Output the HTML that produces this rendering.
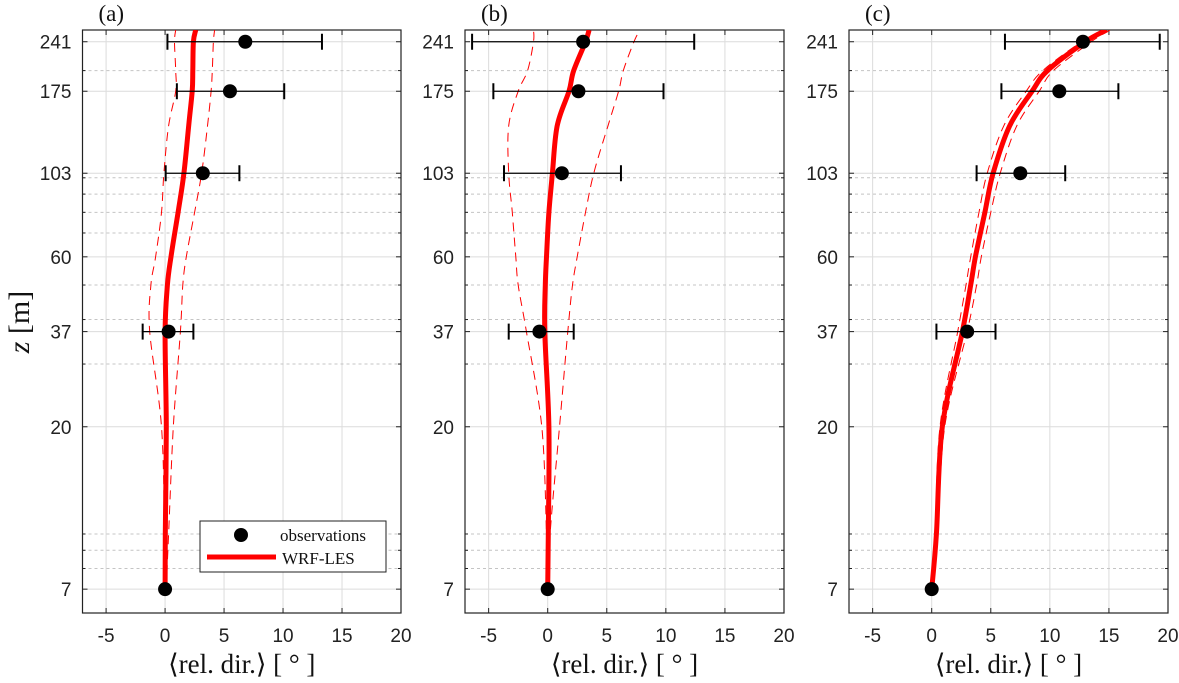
<!DOCTYPE html>
<html><head><meta charset="utf-8"><style>
html,body{margin:0;padding:0;background:#fff;}
svg{display:block;}
.tick{font-family:"Liberation Sans",sans-serif;font-size:19px;fill:#222;}
.ser{font-family:"Liberation Serif",serif;fill:#111;}
</style></head><body>
<svg id="chart" width="1179" height="683" viewBox="0 0 1179 683" xmlns="http://www.w3.org/2000/svg"></svg>
<script>
const heights=[7,10,20,37,50,60,80,103,140,175,200,241,260];
const obsZ=[7,37,103,175,241];
// panel a
const aMean=[0,0.02,0.1,0.0,0.2,0.5,1.1,1.6,2.0,2.3,2.35,2.4,2.6];
const aLow=[0,-0.05,-0.3,-1.3,-1.2,-0.8,-0.3,-0.1,0.3,0.9,0.9,0.8,0.9];
const aHigh=[0.1,0.3,0.7,1.3,1.5,1.8,2.5,3.1,3.6,3.9,4.0,4.1,4.2];
const aObs=[0,0.3,3.2,5.5,6.8];
const aErrLo=[null,-1.9,0.05,1.0,0.2];
const aErrHi=[null,2.4,6.3,10.1,13.3];
// panel b
const bMean=[0,0.05,0.1,-0.25,-0.2,-0.1,0.1,0.4,0.8,1.8,2.2,3.2,3.5];
const bLow=[0,-0.1,-0.5,-1.8,-2.5,-2.7,-3.0,-3.3,-3.3,-2.5,-1.7,-1.2,-1.2];
const bHigh=[0.05,0.2,1.0,1.7,2.1,2.5,3.2,3.9,5.1,6.0,6.4,7.3,7.8];
const bObs=[0,-0.7,1.2,2.6,3.0];
const bErrLo=[null,-3.3,-3.7,-4.6,-6.4];
const bErrHi=[null,2.2,6.2,9.8,12.4];
// panel c
const cMean=[0,0.4,0.9,2.6,3.3,3.7,4.5,5.2,6.6,8.5,9.8,13.0,14.8];
const cLow=[0,0.3,0.7,2.2,2.9,3.3,4.0,4.7,6.1,8.0,9.4,12.7,14.7];
const cHigh=[0,0.5,1.1,3.0,3.8,4.2,5.0,5.8,7.2,9.1,10.3,13.5,15.1];
const cObs=[0,3.0,7.5,10.8,12.8];
const cErrLo=[null,0.4,3.8,5.9,6.2];
const cErrHi=[null,5.4,11.3,15.8,19.3];
const xTicks=[-5,0,5,10,15,20];
const yTicks=[7,20,37,60,103,175,241];
const yMinor=[8,9,10,30,40,50,70,80,90,100,200];

const NS="http://www.w3.org/2000/svg";
const svg=document.getElementById('chart');
function mk(tag,attrs,parent){const e=document.createElementNS(NS,tag);for(const k in attrs)e.setAttribute(k,attrs[k]);(parent||svg).appendChild(e);return e;}
const plotTop=30,plotBot=613,zMin=6,zMax=260;
function Y(z){return plotBot-(Math.log10(z)-Math.log10(zMin))/(Math.log10(zMax)-Math.log10(zMin))*(plotBot-plotTop);}
function smooth(pts){
 let d='M'+pts[0][0].toFixed(1)+','+pts[0][1].toFixed(1);
 for(let i=0;i<pts.length-1;i++){
  const p0=pts[Math.max(i-1,0)],p1=pts[i],p2=pts[i+1],p3=pts[Math.min(i+2,pts.length-1)];
  const c1=[p1[0]+(p2[0]-p0[0])/6,p1[1]+(p2[1]-p0[1])/6];
  const c2=[p2[0]-(p3[0]-p1[0])/6,p2[1]-(p3[1]-p1[1])/6];
  d+=' C'+c1[0].toFixed(1)+','+c1[1].toFixed(1)+' '+c2[0].toFixed(1)+','+c2[1].toFixed(1)+' '+p2[0].toFixed(1)+','+p2[1].toFixed(1);
 }
 return d;
}
const panels=[
 {key:'a',left:82.5,right:401,mean:aMean,low:aLow,high:aHigh,obs:aObs,lo:aErrLo,hi:aErrHi},
 {key:'b',left:465,right:784,mean:bMean,low:bLow,high:bHigh,obs:bObs,lo:bErrLo,hi:bErrHi},
 {key:'c',left:849,right:1168,mean:cMean,low:cLow,high:cHigh,obs:cObs,lo:cErrLo,hi:cErrHi}];
panels.forEach(p=>{
 const X=v=>p.left+(v+7)/27*(p.right-p.left);
 const g=mk('g',{});
 
 
 xTicks.forEach(t=>{const l=mk('line',{x1:X(t),x2:X(t),y1:plotTop,y2:plotBot,stroke:'#dcdcdc','stroke-width':1},g);
  
  });
 yMinor.forEach(z=>{const l=mk('line',{x1:p.left,x2:p.right,y1:Y(z),y2:Y(z),stroke:'#c4c4c4','stroke-width':1,'stroke-dasharray':'3,3'},g);
  
  
  mk('line',{x1:p.left,x2:p.left+3,y1:Y(z),y2:Y(z),stroke:'#222'},g);mk('line',{x1:p.right-3,x2:p.right,y1:Y(z),y2:Y(z),stroke:'#222'},g);});
 yTicks.forEach(z=>{const l=mk('line',{x1:p.left,x2:p.right,y1:Y(z),y2:Y(z),stroke:'#dcdcdc','stroke-width':1},g);
  
  
  mk('line',{x1:p.left,x2:p.left+5,y1:Y(z),y2:Y(z),stroke:'#222'},g);mk('line',{x1:p.right-5,x2:p.right,y1:Y(z),y2:Y(z),stroke:'#222'},g);
  const t=mk('text',{x:p.left-11,y:Y(z)+7,'text-anchor':'end',class:'tick'},g);t.textContent=z;
  
  });
 xTicks.forEach(v=>{mk('line',{x1:X(v),x2:X(v),y1:plotBot,y2:plotBot-5,stroke:'#222'},g);mk('line',{x1:X(v),x2:X(v),y1:plotTop,y2:plotTop+5,stroke:'#222'},g);
  const t=mk('text',{x:X(v),y:642,'text-anchor':'middle',class:'tick'},g);t.textContent=v;
  
  });
 const fr=mk('rect',{x:p.left,y:plotTop,width:p.right-p.left,height:plotBot-plotTop,fill:'none',stroke:'#222','stroke-width':1.2},g);
 
 
 const clip=mk('clipPath',{id:'clip'+p.key},g);mk('rect',{x:p.left,y:plotTop,width:p.right-p.left,height:plotBot-plotTop},clip);
 const cg=mk('g',{'clip-path':'url(#clip'+p.key+')'},g);
 const path=arr=>smooth(arr.map((v,i)=>[X(v),Y(heights[i])]));
 [p.low,p.high].forEach((arr,k)=>{const l=mk('path',{d:path(arr),fill:'none',stroke:'#ff0000','stroke-width':1,'stroke-dasharray':'9,6'},cg);
  
  });
 const m=mk('path',{d:path(p.mean),fill:'none',stroke:'#ff0000','stroke-width':5,'stroke-linejoin':'round'},cg);
 
 
 p.obs.forEach((v,i)=>{const y=Y(obsZ[i]);
  if(p.lo[i]!==null){
   const e=mk('g',{},g);
   
   
   const a=Math.max(X(p.lo[i]),p.left+2);
   mk('line',{x1:a,x2:X(p.hi[i]),y1:y,y2:y,stroke:'#000','stroke-width':1.2},e);
   mk('line',{x1:a,x2:a,y1:y-8,y2:y+8,stroke:'#000','stroke-width':2},e);
   mk('line',{x1:X(p.hi[i]),x2:X(p.hi[i]),y1:y-8,y2:y+8,stroke:'#000','stroke-width':2},e);}
  const c=mk('circle',{cx:X(v),cy:y,r:7,fill:'#000'},g);
  
  });
 const t=mk('text',{x:p.left+16,y:21,'font-size':'23',class:'ser'},g);t.textContent='('+p.key+')';
 
 
 const xl=mk('text',{x:(p.left+p.right)/2,y:673,'font-size':'27','text-anchor':'middle',class:'ser','xml:space':'preserve'},g);xl.textContent='⟨rel.  dir.⟩  [ ° ]';
 
 
});
const yl=mk('text',{x:0,y:0,'font-size':'30',class:'ser',transform:'translate(29,322) rotate(-90)','text-anchor':'middle'});
yl.innerHTML='<tspan font-style="italic">z</tspan> [m]';


const lg=mk('g',{});


mk('rect',{x:200,y:521,width:186,height:51,fill:'#fff',stroke:'#222','stroke-width':1},lg);
const le1=mk('g',{},lg);


mk('circle',{cx:241,cy:535,r:7,fill:'#000'},le1);
const t1=mk('text',{x:280,y:541,'font-size':'17',class:'ser'},le1);t1.textContent='observations';
const le2=mk('g',{},lg);


mk('line',{x1:207,x2:276,y1:557,y2:557,stroke:'#ff0000','stroke-width':5},le2);
const t2=mk('text',{x:282,y:564,'font-size':'17',class:'ser'},le2);t2.textContent='WRF-LES';
</script>
</body></html>
